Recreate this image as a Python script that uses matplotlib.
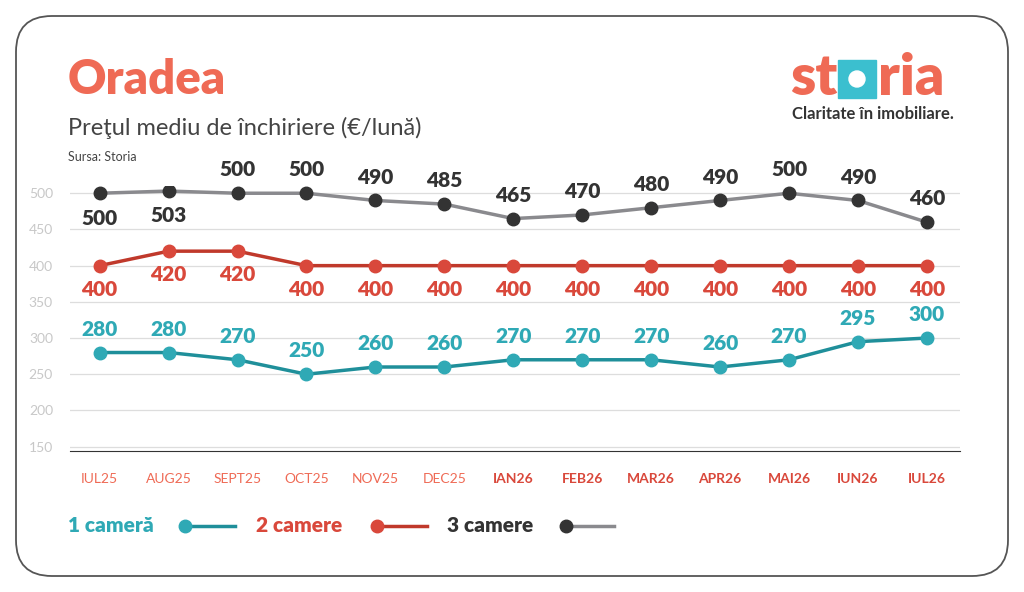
import matplotlib.pyplot as plt
from matplotlib.patches import FancyBboxPatch, Rectangle, Ellipse

# === DATA ===
months = ['IUL25', 'AUG25', 'SEPT25', 'OCT25', 'NOV25', 'DEC25', 'IAN26',
          'FEB26', 'MAR26', 'APR26', 'MAI26', 'IUN26', 'IUL26']
cam1 = [280, 280, 270, 250, 260, 260, 270, 270, 270, 260, 270, 295, 300]
cam2 = [400, 420, 420, 400, 400, 400, 400, 400, 400, 400, 400, 400, 400]
cam3 = [500, 503, 500, 500, 490, 485, 465, 470, 480, 490, 500, 490, 460]
yticks = [150, 200, 250, 300, 350, 400, 450, 500]

TEAL = '#1f8f9a'
TEAL_L = '#2fa9b5'
RED = '#c0392b'
RED_L = '#d9483b'
DARK = '#333333'
GREY = '#8a8a8e'
ORANGE = '#ef6a55'
plt.rcParams['font.family'] = ['Lato', 'DejaVu Sans']

fig = plt.figure(figsize=(10.24, 5.92), dpi=100)
fig.patches.append(FancyBboxPatch((16/1024, 16/592), 992/1024, 560/592,
                                  boxstyle='round,pad=0,rounding_size=0.035',
                                  transform=fig.transFigure, fc='white',
                                  ec='#555555', lw=1.3, mutation_aspect=1024/592,
                                  zorder=-10))

ax = fig.add_axes([0.068, 1 - 451/592, 0.8695, (451 - 186)/592])
ax.patch.set_alpha(0)
ax.set_xlim(-0.435, 12.48)
ax.set_ylim(144, 510)
x = list(range(len(months)))

for v in yticks:
    ax.axhline(v, color='#dddddd', lw=0.9, zorder=0)
for s in ['top', 'right', 'left']:
    ax.spines[s].set_visible(False)
ax.spines['bottom'].set_color('#333333')
ax.set_yticks(yticks)
ax.set_yticklabels([str(v) for v in yticks], color='#c8c8c8', fontsize=10)
ax.tick_params(axis='y', length=0, pad=12)
ax.set_xticks(x)
ax.set_xticklabels(months, fontsize=10)
ax.tick_params(axis='x', length=0, pad=16)
for i, t in enumerate(ax.get_xticklabels()):
    if i >= 6:
        t.set_color(RED_L); t.set_fontweight('bold')
    else:
        t.set_color(ORANGE)

ax.plot(x, cam1, color=TEAL, lw=2.5, marker='o', ms=9, mfc=TEAL_L, mec=TEAL_L)
ax.plot(x, cam2, color=RED, lw=2.5, marker='o', ms=9, mfc=RED_L, mec=RED_L)
ax.plot(x, cam3, color=GREY, lw=2.5, marker='o', ms=9, mfc=DARK, mec=DARK)

for i in x:
    ax.annotate(str(cam1[i]), (i, cam1[i]), xytext=(0, 10), textcoords='offset points',
                ha='center', va='bottom', color=TEAL_L, fontsize=15, fontweight='heavy')
    ax.annotate(str(cam2[i]), (i, cam2[i]), xytext=(0, -10), textcoords='offset points',
                ha='center', va='top', color=RED_L, fontsize=15, fontweight='heavy')
    below = i < 2
    ax.annotate(str(cam3[i]), (i, cam3[i]), xytext=(0, -11 if below else 10),
                textcoords='offset points', ha='center', va='top' if below else 'bottom',
                color=DARK, fontsize=15, fontweight='heavy')

# titles
fig.text(68/1024, 1 - 80/592, 'Oradea', color=ORANGE, fontsize=34, fontweight='heavy', va='center')
fig.text(68/1024, 1 - 128/592, 'Preţul mediu de închiriere (€/lună)', color='#444444',
         fontsize=17, va='center')
fig.text(68/1024, 1 - 157/592, 'Sursa: Storia', color='#444444', fontsize=9, va='center')

# logo
fig.text(790/1024, 1 - 78/592, 'st', color=ORANGE, fontsize=41, fontweight='heavy', va='center')
fig.patches.append(Rectangle((838/1024, 1 - 98/592), 38/1024, 38/592,
                             transform=fig.transFigure, color='#3bbfcf'))
fig.patches.append(Ellipse((857/1024, 1 - 79/592), 16/1024, 16/592,
                           transform=fig.transFigure, color='white'))
fig.text(878/1024, 1 - 78/592, 'ria', color=ORANGE, fontsize=41, fontweight='heavy', va='center')
fig.text(792/1024, 1 - 114/592, 'Claritate în imobiliare.', color='#333333',
         fontsize=12, fontweight='bold', va='center')

# legend
ly = 1 - 526/592
items = [(68, '1 cameră', TEAL_L, TEAL, TEAL_L, 185, 235),
         (256, '2 camere', RED_L, RED, RED_L, 377, 427),
         (447, '3 camere', DARK, GREY, DARK, 566, 614)]
for xt, lab, tc, lc, mc, xm, xe in items:
    fig.text(xt/1024, ly, lab, color=tc, fontsize=15, fontweight='heavy', va='center')
    fig.lines.append(plt.Line2D([xm/1024, xe/1024], [ly, ly], color=lc, lw=2.5,
                                transform=fig.transFigure))
    fig.lines.append(plt.Line2D([xm/1024], [ly], marker='o', ms=9, color=mc,
                                transform=fig.transFigure))

fig.savefig('out.png', dpi=100)
